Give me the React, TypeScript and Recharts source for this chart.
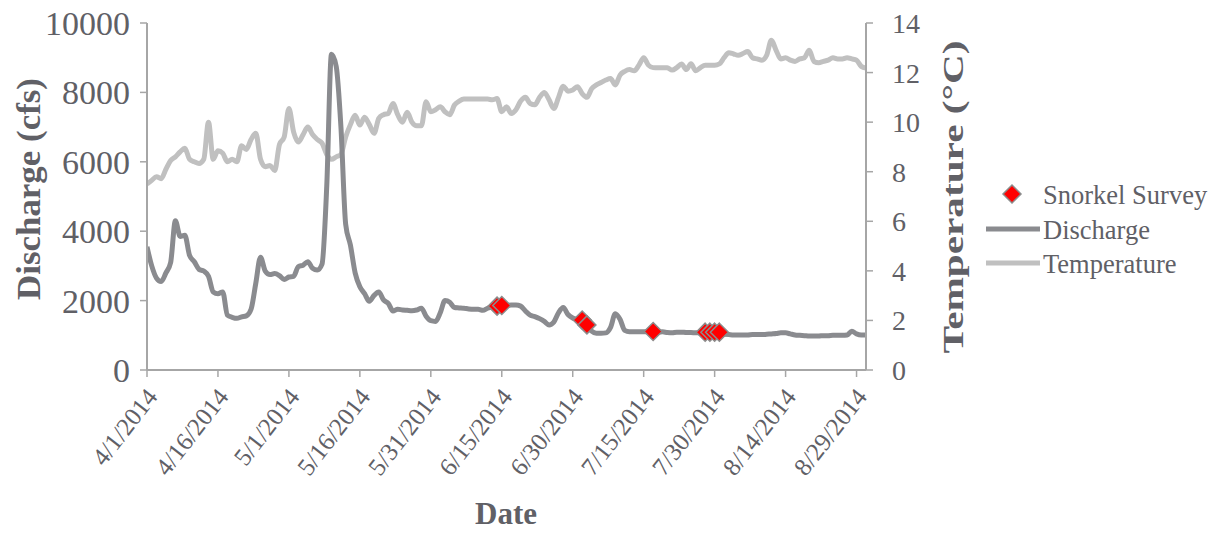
import React from 'react';
import { ComposedChart, Line, Scatter, XAxis, YAxis } from 'recharts';

// Day offsets from 4/1/2014 used for x-axis ticks, and their labels
const tickDays = [0, 15, 30, 45, 60, 75, 90, 105, 120, 135, 150];
const tickLabels = ['4/1/2014', '4/16/2014', '5/1/2014', '5/16/2014', '5/31/2014', '6/15/2014', '6/30/2014', '7/15/2014', '7/30/2014', '8/14/2014', '8/29/2014'];

const dischargeTicks = [0, 2000, 4000, 6000, 8000, 10000];
const tempTicks = [0, 2, 4, 6, 8, 10, 12, 14];

// Daily discharge (cfs), 4/1/2014 .. 8/31/2014
const discharge = [
  3550, 3000, 2650, 2550, 2800, 3100, 4300, 3850, 3880, 3300,
  3120, 2900, 2850, 2700, 2250, 2200, 2250, 1580, 1520, 1490,
  1530, 1560, 1750, 2500, 3250, 2850, 2750, 2780, 2720, 2610,
  2680, 2700, 2980, 3020, 3120, 2930, 2880, 3050, 5300, 9100,
  8750, 7000, 4200, 3600, 2800, 2400, 2200, 1980, 2150, 2250,
  2020, 1920, 1700, 1750, 1730, 1720, 1710, 1730, 1780, 1550,
  1420, 1400, 1650, 2000, 1950, 1800, 1790, 1780, 1760, 1750,
  1750, 1720, 1780, 1830, 1860, 1860, 1860, 1870, 1870, 1840,
  1700, 1580, 1540, 1480, 1400, 1300, 1380, 1650, 1800, 1600,
  1500, 1450, 1400, 1300, 1120, 1060, 1060, 1070, 1230, 1620,
  1460, 1140, 1100, 1100, 1100, 1100, 1110, 1110, 1090, 1100,
  1080, 1070, 1090, 1090, 1080, 1080, 1070, 1070, 1070, 1070,
  1050, 1040, 1030, 1020, 1010, 1010, 1010, 1010, 1020, 1020,
  1020, 1030, 1040, 1050, 1070, 1070, 1040, 1010, 1000, 990,
  980, 980, 980, 990, 990, 1000, 1000, 1000, 1010, 1120,
  1040, 1010, 1010,
];

// Daily water temperature (°C), 4/1/2014 .. 8/31/2014
const temperature = [
  7.5, 7.65, 7.8, 7.72, 8.1, 8.45, 8.6, 8.8, 8.95, 8.5,
  8.4, 8.33, 8.5, 10.0, 8.5, 8.85, 8.75, 8.4, 8.5, 8.4,
  9.05, 8.9, 9.3, 9.55, 8.5, 8.2, 8.25, 8.05, 9.1, 9.4,
  10.55, 9.6, 9.2, 9.5, 9.8, 9.5, 9.3, 9.15, 8.7, 8.5,
  8.6, 8.7, 9.4, 9.9, 10.28, 9.88, 10.2, 9.9, 9.55, 10.15,
  10.3, 10.35, 10.75, 10.3, 10.0, 10.4, 10.0, 9.85, 9.85, 10.82,
  10.42, 10.5, 10.62, 10.42, 10.3, 10.69, 10.85, 10.93, 10.93, 10.93,
  10.93, 10.93, 10.93, 10.9, 10.95, 10.42, 10.62, 10.35, 10.5, 10.85,
  11.0, 10.75, 10.7, 11.0, 11.2, 10.9, 10.55, 11.0, 11.45, 11.25,
  11.3, 11.43, 11.15, 11.0, 11.35, 11.5, 11.6, 11.7, 11.76, 11.5,
  11.9, 12.05, 12.12, 12.07, 12.3, 12.6, 12.3, 12.2, 12.19, 12.19,
  12.19, 12.1, 12.2, 12.35, 12.12, 12.36, 12.07, 12.2, 12.3, 12.3,
  12.3, 12.35, 12.6, 12.8, 12.75, 12.7, 12.77, 12.85, 12.6, 12.55,
  12.5, 12.7, 13.3, 12.9, 12.55, 12.6, 12.5, 12.45, 12.55, 12.6,
  12.9, 12.45, 12.4, 12.45, 12.5, 12.6, 12.55, 12.55, 12.6, 12.55,
  12.5, 12.25, 12.18,
];

// Snorkel survey dates (day offset) and discharge at survey
const snorkelDays = [74, 75, 92, 93, 107, 118, 119, 120, 121];
const snorkelCfs = [1840, 1860, 1440, 1300, 1110, 1090, 1090, 1090, 1090];

const dischargeData = discharge.map((q, i) => ({ day: i, q }));
const tempData = temperature.map((t, i) => ({ day: i, t }));
const snorkelData = snorkelDays.map((d, i) => ({ day: d, q: snorkelCfs[i] }));

const FONT = "'Liberation Serif', 'Times New Roman', serif";
const TEXT = '#606066';
const AXIS = '#a6a6a6';
const DISCHARGE_COLOR = '#8a8b8f';
const TEMP_COLOR = '#c0c0c0';

const labelFor = (day: number) => {
  const idx = tickDays.indexOf(day);
  return idx >= 0 ? tickLabels[idx] : '';
};

const XTick = (props: any) => {
  const { x, y, payload } = props;
  const ax = x + 5;
  const ay = y + 13;
  return (
    <text
      x={ax}
      y={ay}
      transform={`rotate(-52 ${ax} ${ay})`}
      textAnchor="end"
      dominantBaseline="central"
      fontFamily={FONT}
      fontSize={25}
      fill={TEXT}
    >
      {labelFor(payload.value)}
    </text>
  );
};

const Diamond = (props: any) => {
  const { cx, cy } = props;
  if (cx == null || cy == null) return null;
  const r = 9;
  return (
    <path
      d={`M${cx},${cy - r} L${cx + r},${cy} L${cx},${cy + r} L${cx - r},${cy} Z`}
      fill="#ff0000"
      stroke="#8c8c8c"
      strokeWidth={1.5}
    />
  );
};

const Legend = () => (
  <svg width={240} height={110} style={{ position: 'absolute', left: 975, top: 175 }}>
    <path d="M37,10 L46,19 L37,28 L28,19 Z" fill="#ff0000" stroke="#8c8c8c" strokeWidth={1.5} />
    <text x={68} y={20} dominantBaseline="central" fontFamily={FONT} fontSize={26.5} fill={TEXT}>Snorkel Survey</text>
    <line x1={11} x2={65} y1={54} y2={54} stroke={DISCHARGE_COLOR} strokeWidth={5} />
    <text x={68} y={55} dominantBaseline="central" fontFamily={FONT} fontSize={26.5} fill={TEXT}>Discharge</text>
    <line x1={11} x2={65} y1={88} y2={88} stroke={TEMP_COLOR} strokeWidth={5} />
    <text x={68} y={89} dominantBaseline="central" fontFamily={FONT} fontSize={26.5} fill={TEXT}>Temperature</text>
  </svg>
);

export default function App() {
  return (
    <div style={{ position: 'absolute', left: 0, top: 0, width: 1217, height: 535, background: '#fff' }}>
      <ComposedChart
        width={1217}
        height={535}
        margin={{ top: 23, right: 251, left: 47, bottom: 35 }}
      >
        <XAxis
          dataKey="day"
          type="number"
          domain={[0, 152]}
          ticks={tickDays}
          interval={0}
          height={130}
          tick={<XTick />}
          tickSize={7}
          axisLine={{ stroke: AXIS, strokeWidth: 2 }}
          tickLine={{ stroke: AXIS, strokeWidth: 1.5 }}
          allowDataOverflow
          label={() => (
            <text x={506} y={513} textAnchor="middle" dominantBaseline="central" fontFamily={FONT} fontSize={31} fontWeight="bold" fill={TEXT}>
              Date
            </text>
          )}
        />
        <YAxis
          yAxisId="left"
          domain={[0, 10000]}
          ticks={dischargeTicks}
          interval={0}
          width={100}
          tickSize={7}
          tickMargin={10}
          axisLine={{ stroke: AXIS, strokeWidth: 2 }}
          tickLine={{ stroke: AXIS, strokeWidth: 1.5 }}
          tick={{ fontFamily: FONT, fontSize: 34, fill: TEXT }}
          label={() => (
            <text x={29} y={189} transform="rotate(-90 29 189)" textAnchor="middle" dominantBaseline="central" fontFamily={FONT} fontSize={33} fontWeight="bold" fill={TEXT} textLength={222} lengthAdjust="spacingAndGlyphs">
              Discharge (cfs)
            </text>
          )}
        />
        <YAxis
          yAxisId="right"
          orientation="right"
          domain={[0, 14]}
          ticks={tempTicks}
          interval={0}
          width={100}
          tickSize={7}
          tickMargin={19}
          axisLine={{ stroke: AXIS, strokeWidth: 2 }}
          tickLine={{ stroke: AXIS, strokeWidth: 1.5 }}
          tick={{ fontFamily: FONT, fontSize: 28, fill: TEXT, textAnchor: 'start' }}
          label={() => (
            <text x={952} y={197} transform="rotate(-90 952 197)" textAnchor="middle" dominantBaseline="central" fontFamily={FONT} fontSize={30} fontWeight="bold" fill={TEXT} textLength={313} lengthAdjust="spacingAndGlyphs">
              Temperature (°C)
            </text>
          )}
        />
        <Line
          yAxisId="right"
          data={tempData}
          dataKey="t"
          type="monotone"
          stroke={TEMP_COLOR}
          strokeWidth={5}
          dot={false}
          activeDot={false}
          isAnimationActive={false}
        />
        <Line
          yAxisId="left"
          data={dischargeData}
          dataKey="q"
          type="monotone"
          stroke={DISCHARGE_COLOR}
          strokeWidth={5}
          dot={false}
          activeDot={false}
          isAnimationActive={false}
        />
        <Scatter
          yAxisId="left"
          data={snorkelData}
          dataKey="q"
          shape={<Diamond />}
          isAnimationActive={false}
        />
      </ComposedChart>
      <Legend />
    </div>
  );
}
